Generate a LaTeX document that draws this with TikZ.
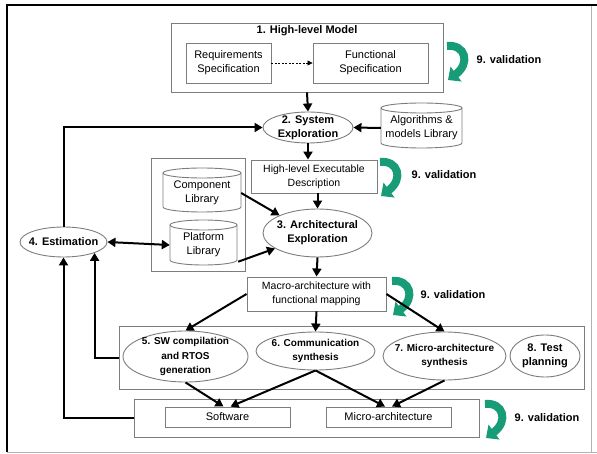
\documentclass[tikz,border=0pt]{standalone}
\usepackage{fontspec}
\setmainfont{Liberation Sans}
\usetikzlibrary{arrows.meta,shapes.geometric,calc}

\definecolor{edge}{RGB}{125,125,125}
\definecolor{valgreen}{RGB}{24,156,120}

\tikzset{
  box/.style={draw=edge, line width=0.9pt, rectangle, inner sep=0pt, align=center,
    font=\fontsize{11}{14}\selectfont},
  group/.style={draw=edge, line width=0.9pt},
  proc/.style={draw=edge, line width=0.9pt, ellipse, inner sep=0pt},
  ptext/.style={align=center, inner sep=0pt, font=\fontsize{11}{14}\selectfont\bfseries},
  smalltext/.style={ptext, font=\fontsize{10}{14.5}\selectfont\bfseries},
  arr/.style={line width=2pt, -{Triangle[width=9pt,length=8pt]}},
  biarr/.style={line width=2pt, {Triangle[width=9pt,length=8pt]}-{Triangle[width=9pt,length=8pt]}},
  dasharr/.style={line width=0.8pt, dash pattern=on 2pt off 1.5pt, -{Triangle[width=5pt,length=5pt]}},
  lbl/.style={font=\fontsize{11}{14}\selectfont\bfseries},
  validation/.pic={
    \draw[valgreen, line width=8pt, -{Triangle[width=18pt,length=10pt]}]
      (0,5) .. controls (18,3) and (24,22) .. (1,39);
  }
}

% cylinder: name, x0, y0, x1, y1, text shift, text
\newcommand\cylnode[7]{%
  \pgfmathsetmacro\cylcx{(#2+#4)/2}%
  \pgfmathsetmacro\cylrx{(#4-#2)/2}%
  \pgfmathsetmacro\cylcy{(#3+#5)/2+#6}%
  \draw[group] (#2,#3+5) -- (#2,#5-5) arc[start angle=180, end angle=0, x radius=\cylrx, y radius=5] -- (#4,#3+5);
  \draw[group] (\cylcx,#3+5) ellipse [x radius=\cylrx, y radius=5];
  \node[inner sep=0pt, minimum width={#4-#2}, minimum height={#5-#3}, align=center,
    font=\fontsize{11}{14}\selectfont] (#1) at (\cylcx,\cylcy) {#7};
}

\begin{document}
\begin{tikzpicture}[x=1pt, y=-1pt]
\useasboundingbox (0,0) rectangle (597,454);

% page frame
\draw[line width=1.2pt] (7,452) -- (7,5) -- (597,5);
\draw[gray!60, line width=0.8pt] (591,6) -- (591,452);
\draw[gray!60, line width=0.8pt] (7,452) -- (597,452);

% 1. high-level model
\node[group, minimum width=272, minimum height=69] (hlm) at (307,57.5) {};
\node[lbl] (hlmtitle) at (307,31) {1. High-level Model};
\node[box, minimum width=85, minimum height=40] (req) at (228.5,63) {Requirements\\Specification};
\node[box, minimum width=115, minimum height=40] (func) at (370.5,63) {Functional\\Specification};
\draw[dasharr] (req.east) -- (func.west);

% 2. system exploration
\node[proc, minimum width=90, minimum height=31,
  label={[ptext]center:{2. System\\Exploration}}] (sys) at (308,127.5) {};
\cylnode{alg}{381}{103}{462}{148}{2.5}{Algorithms \&\\models Library}

% high-level executable description
\node[box, minimum width=126, minimum height=33, font=\fontsize{10.5}{14}\selectfont] (exec) at (314,176.5) {High-level Executable\\Description};

% libraries
\node[group, minimum width=94, minimum height=113] (lib) at (198,214.5) {};
\cylnode{comp}{163}{168}{241}{212}{3}{Component\\Library}
\cylnode{plat}{170}{220}{237}{265}{2.5}{Platform\\Library}

% 3. architectural exploration
\node[proc, minimum width=109, minimum height=48,
  label={[ptext]center:{3. Architectural\\Exploration}}] (arch) at (317.5,233) {};

% 4. estimation
\node[proc, minimum width=87, minimum height=30,
  label={[ptext]center:{4. Estimation}}] (est) at (63.5,242) {};

% macro-architecture
\node[box, minimum width=139, minimum height=34, font=\fontsize{10.5}{14}\selectfont] (macro) at (316.5,294) {Macro-architecture with\\functional mapping};

% synthesis row
\node[group, minimum width=465, minimum height=63] (row) at (351.5,357.5) {};
\node[proc, minimum width=125, minimum height=51,
  label={[smalltext]center:{5. SW compilation\\and RTOS\\generation}}] (e5) at (185.5,356.5) {};
\node[proc, minimum width=119, minimum height=38,
  label={[smalltext]center:{6. Communication\\synthesis}}] (e6) at (315.5,351) {};
\node[proc, minimum width=123, minimum height=48,
  label={[smalltext]center:{7. Micro-architecture\\synthesis}}] (e7) at (444.5,356) {};
\node[proc, minimum width=70, minimum height=42,
  label={[ptext]center:{8. Test\\planning}}] (e8) at (545,356) {};

% outputs
\node[group, minimum width=345, minimum height=38] (out) at (306.5,418) {};
\node[box, minimum width=125, minimum height=20] (soft) at (227.5,417) {Software};
\node[box, minimum width=125, minimum height=20] (micro) at (388.5,417) {Micro-architecture};

% validation loops
\pic at (447,41) {validation};
\node[lbl] (v1) at (509,60) {9. validation};
\pic at (380,157) {validation};
\node[lbl] (v2) at (444,175) {9. validation};
\pic at (392,276) {validation};
\node[lbl] (v3) at (453,295) {9. validation};
\pic at (485,399) {validation};
\node[lbl] (v4) at (547,418) {9. validation};

% flow
\draw[arr] (hlm.south) -- (sys.north);
\draw[arr] (alg.west) -- (sys.east);
\draw[arr] (sys.south) -- (sys.south |- exec.north);
\draw[arr] (arch.north |- exec.south) -- (arch.north);
\draw[arr] (comp.east) -- (arch.155);
\draw[arr] ($(plat.south east)+(1,-6)$) -- (arch.200);
\draw[biarr] (est.east) -- (plat.west);
\draw[arr] (est.north) |- (sys.west);
\draw[arr] (arch.south) -- (macro.north);
\draw[arr] (macro.west) -- (e5.north);
\draw[arr] (macro.south) -- (e6.north);
\draw[arr] (macro.east) -- (e7.north);
\draw[arr] (e5.south) -- ($(soft.north)+(-4,0)$);
\draw[arr] (e6.south) -- ($(soft.north)+(3,0)$);
\draw[arr] (e6.south) -- ($(micro.north)+(-3.5,0)$);
\draw[arr] (e7.south) -- ($(micro.north)+(3.5,0)$);
\draw[arr] (row.west) -| (est.south east);
\draw[arr] (out.west) -| (est.south);
\end{tikzpicture}
\end{document}
